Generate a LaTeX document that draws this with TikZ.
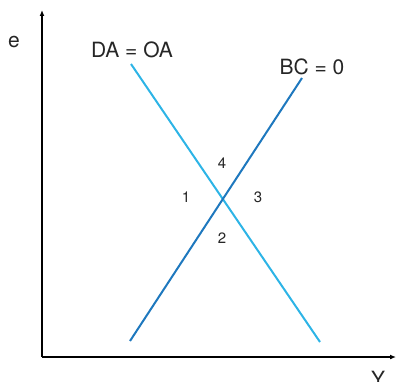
\documentclass[tikz,border=0pt]{standalone}
\usepackage{fontspec}
\setmainfont{TeX Gyre Heros}
\usetikzlibrary{arrows.meta,positioning}
\definecolor{lightblue}{RGB}{45,180,230}
\definecolor{darkblue}{RGB}{30,120,190}

\begin{document}
\begin{tikzpicture}[x=1pt,y=1pt,
    axis/.style={line width=1.8pt,black,-{Latex[length=6pt,width=5pt]}},
    curveline/.style={line width=2pt},
    biglabel/.style={font=\fontsize{21}{23}\selectfont,text=black!85},
    region/.style={font=\fontsize{15}{17}\selectfont,text=black!85}]
    \useasboundingbox (0,0) rectangle (396,381);
    % axes
    \coordinate (O) at (42,24);
    \coordinate (ytip) at (42,371);
    \coordinate (xtip) at (396,24);
    \draw[axis] (O.center) -- (ytip);
    \draw[axis] (O.center) -- (xtip);
    \node[biglabel] (e) at (14,339) {e};
    \node[biglabel,anchor=north] (Y) at (378,13) {Y};
    % schedules
    \coordinate (daTop) at (131,317);
    \coordinate (daBot) at (320,39);
    \coordinate (bcTop) at (302,303);
    \coordinate (bcBot) at (130,40);
    \draw[curveline,lightblue] (daTop) -- (daBot);
    \draw[curveline,darkblue] (bcBot) -- (bcTop);
    \node[biglabel] (daLabel) at (132,331) {DA = OA};
    \node[biglabel] (bcLabel) at (312,314) {BC = 0};
    % regions
    \node[region] (r4) at (222,218) {4};
    \node[region] (r1) at (186,184) {1};
    \node[region] (r3) at (258,184) {3};
    \node[region] (r2) at (222,143) {2};
\end{tikzpicture}
\end{document}
